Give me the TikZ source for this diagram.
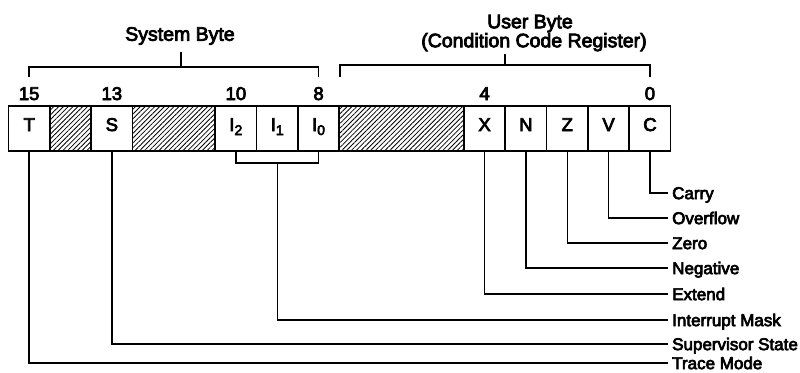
\documentclass[tikz,border=0pt]{standalone}
\usepackage{fontspec}
\setmainfont{Liberation Sans}
\newfontfamily\labfont{Liberation Sans}[FakeBold=4]
\usetikzlibrary{patterns.meta}
\newcommand{\fs}{\labfont\fontsize{18.5pt}{21pt}\selectfont}
\newcommand{\fl}{\labfont\fontsize{17pt}{20pt}\selectfont}
\newcommand{\ft}{\labfont\fontsize{19.5pt}{22pt}\selectfont}
\newcommand{\sub}[1]{\raisebox{-4pt}{\fontsize{14pt}{16pt}\selectfont #1}}
\begin{document}
\begin{tikzpicture}[x=1pt,y=-1pt,
  cell/.style={draw,line width=1.6pt,minimum width=41.34pt,minimum height=45pt,
    inner sep=0pt,font=\fs,text height=13pt,text depth=8pt},
  hatch/.style={draw,line width=1.6pt,minimum height=45pt,inner sep=0pt,
    pattern={Lines[angle=45,distance=3.4pt,line width=0.8pt]}},
  wire/.style={line width=1.4pt},
  lbl/.style={anchor=west,inner xsep=4pt,inner ysep=0pt,font=\fl,
    text height=12.2pt,text depth=0pt},
  num/.style={font=\fs,inner sep=0pt,text height=13pt,text depth=0pt},
  ttl/.style={font=\ft,inner sep=0pt,text height=13.5pt,text depth=0pt}]
\useasboundingbox (0,0) rectangle (800,372);
% register cells
\node[cell] (c15) at (29.17,128.5) {T};
\node[hatch,minimum width=41.34pt] (h14) at (70.51,128.5) {};
\node[cell] (c13) at (111.85,128.5) {S};
\node[hatch,minimum width=82.68pt] (h12) at (173.86,128.5) {};
\node[cell] (c10) at (235.87,128.5) {I\sub{2}};
\node[cell] (c9) at (277.21,128.5) {I\sub{1}};
\node[cell] (c8) at (318.55,128.5) {I\sub{0}};
\node[hatch,minimum width=124.02pt] (h7) at (401.56,128.5) {};
\node[cell] (c4) at (484.57,128.5) {X};
\node[cell] (c3) at (525.91,128.5) {N};
\node[cell] (c2) at (567.25,128.5) {Z};
\node[cell] (c1) at (608.59,128.5) {V};
\node[cell] (c0) at (649.93,128.5) {C};
% bit numbers
\node[num] (n15) at (29.17,93.5) {15};
\node[num] (n13) at (111.85,93.5) {13};
\node[num] (n10) at (235.87,93.5) {10};
\node[num] (n8) at (318.55,93.5) {8};
\node[num] (n4) at (484.57,93.5) {4};
\node[num] (n0) at (649.93,93.5) {0};
% titles and brackets
\node[ttl] (sys) at (180,34) {System Byte};
\node[ttl] (usr) at (530,21.5) {User Byte};
\node[ttl] (ccr) at (534,40.5) {(Condition Code Register)};
\coordinate (sbl) at (29.17,77);
\coordinate (sbr) at (318.55,77);
\coordinate (sbt) at (181,67);
\coordinate (sbtt) at (181,52);
\draw[wire] (sbl) -- (sbl |- sbt) -- (sbr |- sbt) -- (sbr);
\draw[wire] (sbt) -- (sbtt);
\coordinate (ubl) at (340,77);
\coordinate (ubr) at (649.93,77);
\coordinate (ubt) at (505,65);
\coordinate (ubtt) at (505,54);
\draw[wire] (ubl) -- (ubl |- ubt) -- (ubr |- ubt) -- (ubr);
\draw[wire] (ubt) -- (ubtt);
% labels
\node[lbl] (lC) at (668,193) {Carry};
\node[lbl] (lV) at (668,218) {Overflow};
\node[lbl] (lZ) at (668,243) {Zero};
\node[lbl] (lN) at (668,268) {Negative};
\node[lbl] (lX) at (668,294) {Extend};
\node[lbl] (lI) at (668,320) {Interrupt Mask};
\node[lbl] (lS) at (668,344) {Supervisor State};
\node[lbl] (lT) at (668,363) {Trace Mode};
% connectors
\draw[wire] (c0.south) |- (lC.west);
\draw[wire] (c1.south) |- (lV.west);
\draw[wire] (c2.south) |- (lZ.west);
\draw[wire] (c3.south) |- (lN.west);
\draw[wire] (c4.south) |- (lX.west);
\coordinate (im) at (277.21,163);
\draw[wire] (c10.south) -- (c10.south |- im) -- (c8.south |- im) -- (c8.south);
\draw[wire] (im) |- (lI.west);
\draw[wire] (c13.south) |- (lS.west);
\draw[wire] (c15.south) |- (lT.west);
\end{tikzpicture}
\end{document}
